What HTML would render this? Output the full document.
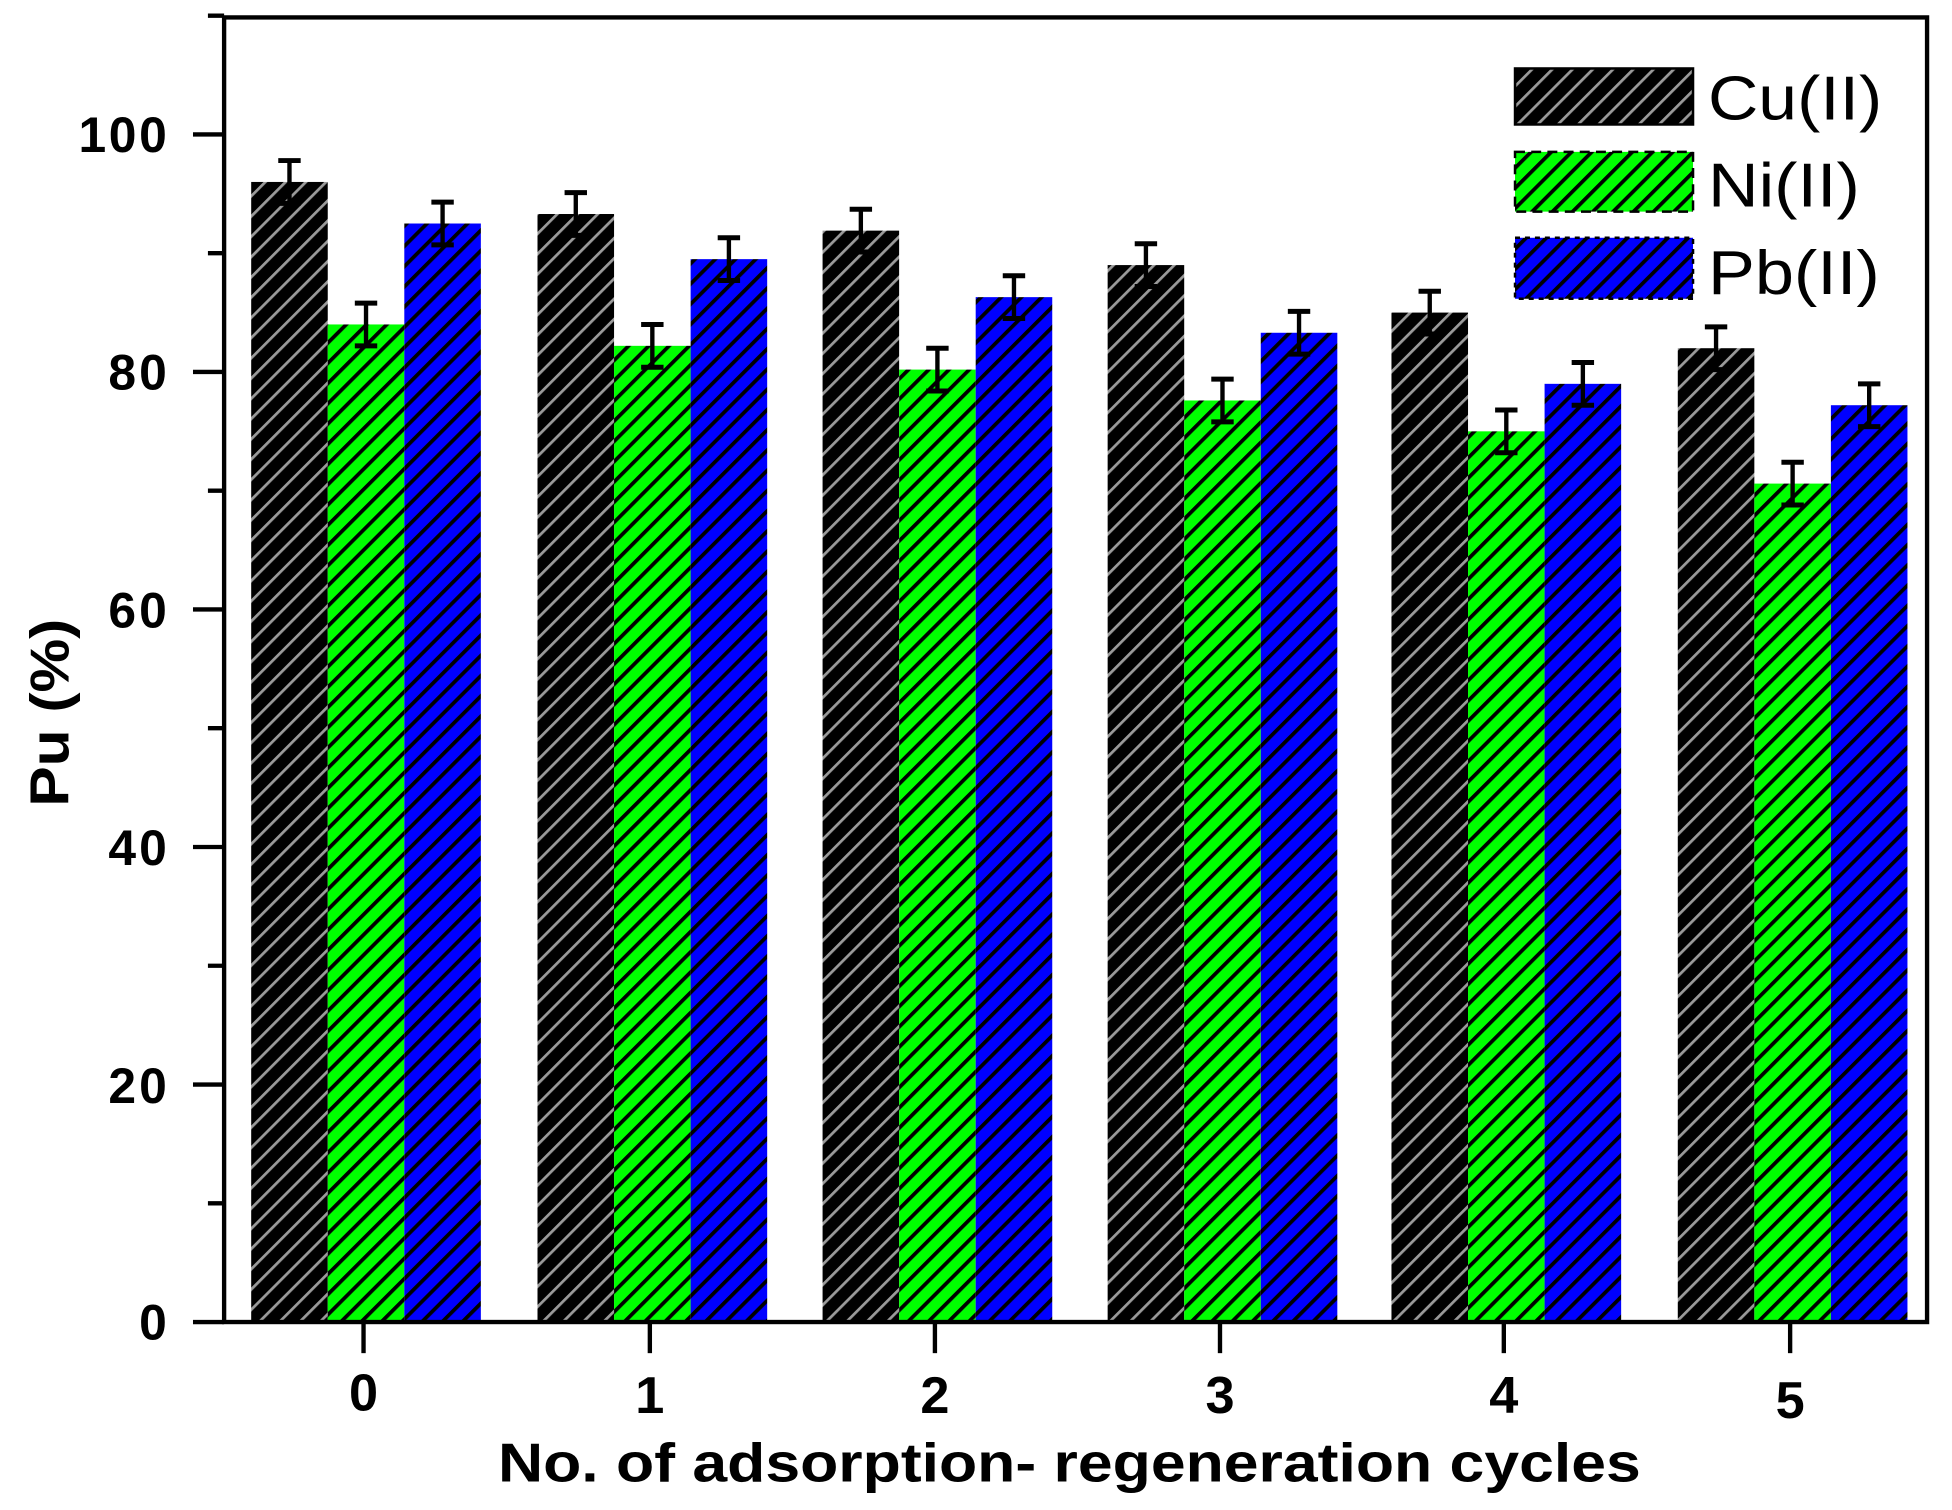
<!DOCTYPE html>
<html><head><meta charset="utf-8"><style>
html,body{margin:0;padding:0;background:#fff;}
svg{display:block;}
text{font-family:"Liberation Sans",Arial,sans-serif;}
</style></head><body>
<svg width="1952" height="1510" viewBox="0 0 1568 1213" xmlns="http://www.w3.org/2000/svg">
<defs>
<pattern id="pc" patternUnits="userSpaceOnUse" width="11.5" height="11.5" patternTransform="rotate(45)">
<rect width="11.5" height="11.5" fill="#000"/><rect x="0" y="0" width="2.2" height="11.5" fill="#9a9a9a"/></pattern>
<pattern id="pn" patternUnits="userSpaceOnUse" width="11.5" height="11.5" patternTransform="rotate(45)">
<rect width="11.5" height="11.5" fill="#00ff00"/><rect x="0" y="0" width="3" height="11.5" fill="#000"/></pattern>
<pattern id="pp" patternUnits="userSpaceOnUse" width="11.5" height="11.5" patternTransform="rotate(45)">
<rect width="11.5" height="11.5" fill="#0000ff"/><rect x="0" y="0" width="3" height="11.5" fill="#000"/></pattern>
</defs>
<g id="bars"></g>
<g stroke="#000" stroke-width="3.5" fill="none">
<rect x="180" y="14" width="1368" height="1048"/>
</g>
<g id="ax" stroke="#000" stroke-width="3.5"></g>
<g font-weight="bold" font-size="40" text-anchor="end" fill="#000">
<text x="134" y="1076" textLength="23">0</text><text x="134" y="886" textLength="47">20</text><text x="134" y="695" textLength="47">40</text>
<text x="134" y="504" textLength="47">60</text><text x="134" y="313" textLength="47">80</text><text x="134" y="122" textLength="71">100</text>
</g>
<g font-weight="bold" font-size="42" text-anchor="middle" fill="#000">
<text x="292" y="1133">0</text><text x="522" y="1135">1</text><text x="751" y="1135">2</text>
<text x="980" y="1135">3</text><text x="1208" y="1135">4</text><text x="1438" y="1139">5</text>
</g>
<text x="400" y="1190" font-weight="bold" font-size="44" textLength="918" lengthAdjust="spacingAndGlyphs">No. of adsorption- regeneration cycles</text>
<text transform="translate(55,648) rotate(-90)" font-weight="bold" font-size="44" textLength="151" lengthAdjust="spacingAndGlyphs">Pu (%)</text>
<rect x="1217" y="55" width="143" height="45" fill="url(#pc)" stroke="#000" stroke-width="2"/>
<rect x="1217" y="122" width="143" height="48" fill="url(#pn)" stroke="#000" stroke-width="2" stroke-dasharray="8 5"/>
<rect x="1217" y="191" width="143" height="49" fill="url(#pp)" stroke="#000" stroke-width="2" stroke-dasharray="4 4"/>
<g font-size="50" fill="#000">
<text x="1372" y="96" textLength="140" lengthAdjust="spacingAndGlyphs">Cu(II)</text><text x="1372" y="166" textLength="122" lengthAdjust="spacingAndGlyphs">Ni(II)</text><text x="1372" y="236" textLength="138" lengthAdjust="spacingAndGlyphs">Pb(II)</text>
</g>
<script>
var ns="http://www.w3.org/2000/svg";
function Y(v){return 1062-v*9.54;}
var cu=[96,93.3,91.9,89,85,82],ni=[84,82.2,80.2,77.6,75,70.6],pb=[92.5,89.5,86.3,83.3,79,77.2];
var cx=[294,524,753,982,1210,1440],w=61.5,e=1.8;
var g=document.getElementById('bars');
function el(t,a,p){var n=document.createElementNS(ns,t);for(var k in a)n.setAttribute(k,a[k]);(p||g).appendChild(n);return n;}
for(var i=0;i<6;i++){
 var sets=[[cu[i],'pc',cx[i]-1.5*w],[ni[i],'pn',cx[i]-0.5*w],[pb[i],'pp',cx[i]+0.5*w]];
 sets.forEach(function(s){
  el('rect',{x:s[2],y:Y(s[0]),width:w,height:1062-Y(s[0]),fill:'url(#'+s[1]+')'});
  var m=s[2]+w/2;
  el('line',{x1:m,x2:m,y1:Y(s[0]+e),y2:Y(s[0]-e),stroke:'#000','stroke-width':3.5});
  el('line',{x1:m-9,x2:m+9,y1:Y(s[0]+e),y2:Y(s[0]+e),stroke:'#000','stroke-width':4});
  el('line',{x1:m-9,x2:m+9,y1:Y(s[0]-e),y2:Y(s[0]-e),stroke:'#000','stroke-width':4});
 });
}
var ax=document.getElementById('ax');
for(var v=0;v<=110;v+=10){var L=(v%20==0)?25:13;el('line',{x1:180-L,x2:180,y1:Y(v),y2:Y(v)},ax);}
cx.forEach(function(x){el('line',{x1:x-2,x2:x-2,y1:1062,y2:1087},ax);});
</script>
</svg>
</body></html>
